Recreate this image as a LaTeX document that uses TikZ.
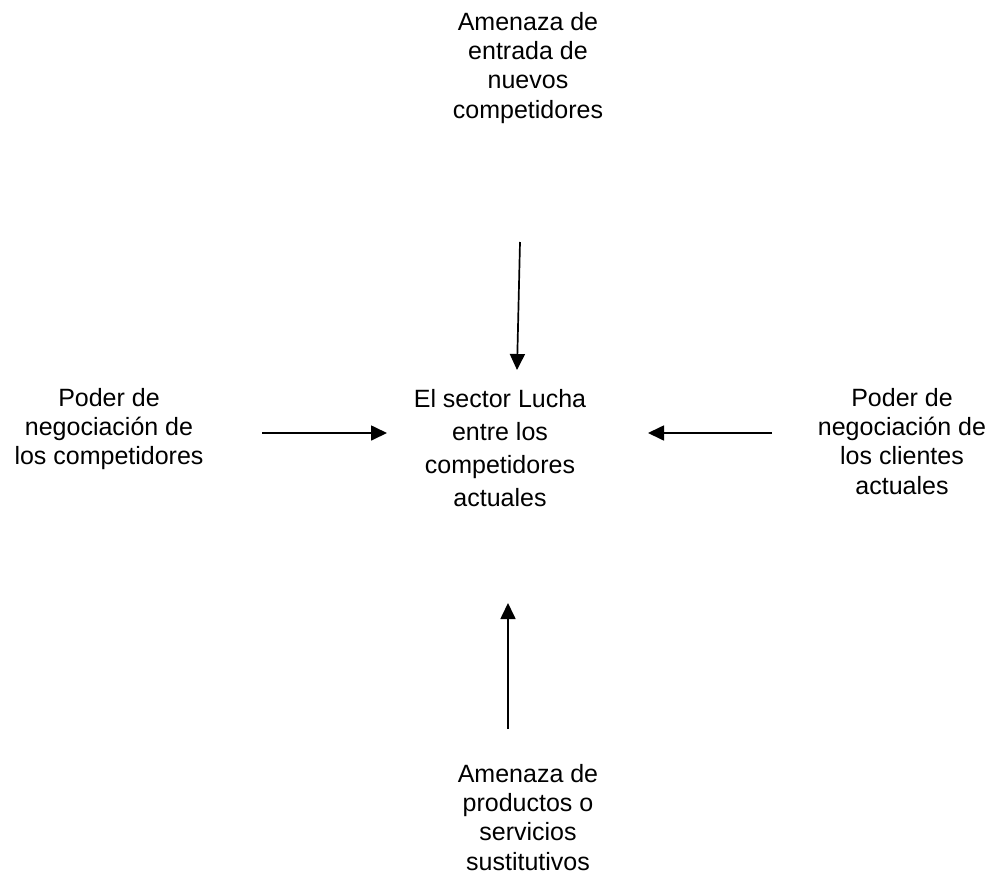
\documentclass[tikz,border=0pt]{standalone}
\usepackage{fontspec}
\setmainfont{Liberation Sans}
\usetikzlibrary{arrows.meta}
\tikzset{
  lbl/.style={align=center, inner sep=0pt, anchor=north, font=\fontsize{25}{29.3}\selectfont},
  mid/.style={align=center, inner sep=0pt, anchor=north, font=\fontsize{25}{33}\selectfont},
  force/.style={line width=1.7pt, -{Triangle[length=16pt,width=15pt]}}
}
\begin{document}
\begin{tikzpicture}[x=1pt,y=-1pt]
\useasboundingbox (0,0) rectangle (994,876);
\fill[white] (0,0) rectangle (994,876);
\node[lbl] (top) at (528,12) {Amenaza de\\entrada de\\nuevos\\competidores};
\node[mid] (center) at (500,389) {El sector Lucha\\entre los\\competidores\\actuales};
\node[lbl] (left) at (109,388) {Poder de\\negociación de\\los competidores};
\node[lbl] (right) at (902,388) {Poder de\\negociación de\\los clientes\\actuales};
\node[lbl] (bottom) at (528,764) {Amenaza de\\productos o\\servicios\\sustitutivos};
\coordinate (ts) at (520,242);
\coordinate (te) at (517,370);
\coordinate (ls) at (262,433);
\coordinate (le) at (387,433);
\coordinate (rs) at (772,433);
\coordinate (re) at (648,433);
\coordinate (bs) at (508,729);
\coordinate (be) at (508,603);
\draw[force] (ts) -- (te);
\draw[force] (ls) -- (le);
\draw[force] (rs) -- (re);
\draw[force] (bs) -- (be);
\end{tikzpicture}
\end{document}
